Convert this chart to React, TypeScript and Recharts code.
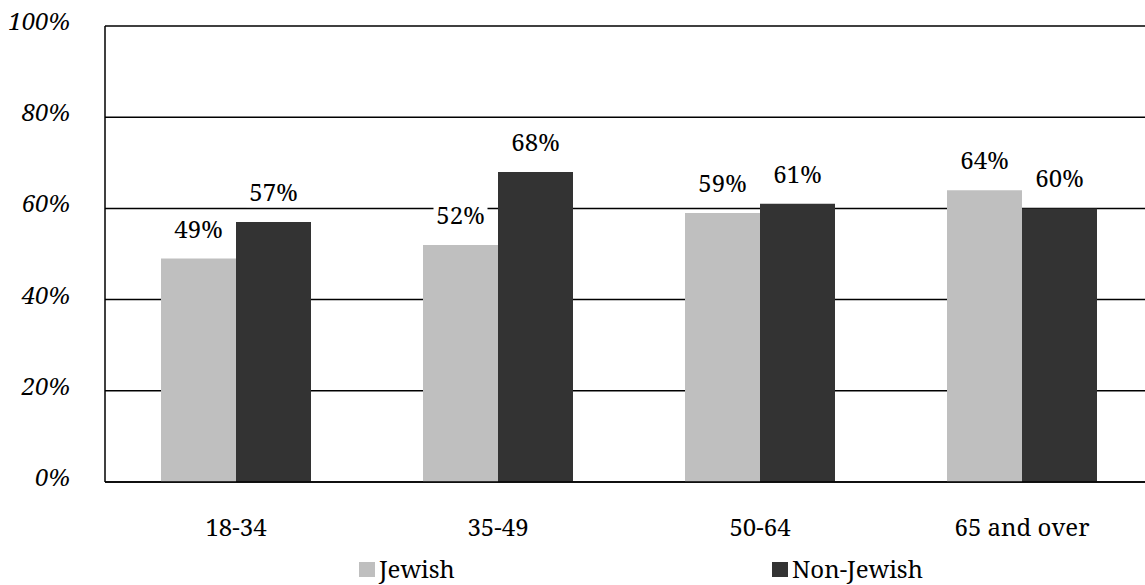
import { BarChart, Bar, XAxis, YAxis, CartesianGrid, LabelList } from "recharts";

const ageGroups = ["18-34", "35-49", "50-64", "65 and over"];
const jewish = [49, 52, 59, 64];
const nonJewish = [57, 68, 61, 60];
const yTicks = [0, 20, 40, 60, 80, 100];

const data = ageGroups.map((group, i) => ({
  group,
  jewish: jewish[i],
  nonJewish: nonJewish[i],
}));

const FONT = '"Noto Serif", "Liberation Serif", serif';
const LIGHT = "#BFBFBF";
const DARK = "#333333";

const YTick = (props: any) => {
  const { x, y, payload } = props;
  return (
    <text
      x={x}
      y={y + 4}
      textAnchor="end"
      style={{ fontFamily: FONT, fontStyle: "italic", fontSize: 24 }}
      fill="#000"
    >
      {payload.value}%
    </text>
  );
};

const XTick = (props: any) => {
  const { x, y, payload } = props;
  return (
    <text
      x={x}
      y={y + 46}
      textAnchor="middle"
      style={{ fontFamily: FONT, fontSize: 24 }}
      fill="#000"
    >
      {payload.value}
    </text>
  );
};

const ValueLabel = (props: any) => {
  const { x, y, width, value } = props;
  const cx = x + width / 2;
  const base = y - 21;
  return (
    <g>
      <rect x={cx - 27} y={base - 22} width={54} height={28} fill="#fff" />
      <text
        x={cx}
        y={base}
        textAnchor="middle"
        style={{ fontFamily: FONT, fontSize: 24 }}
        fill="#000"
      >
        {value}%
      </text>
    </g>
  );
};

const LegendItem = ({ left, color, label }: { left: number; color: string; label: string }) => (
  <div
    style={{
      position: "absolute",
      left,
      top: 553,
      display: "flex",
      alignItems: "center",
      fontFamily: FONT,
      fontSize: 24,
      lineHeight: "32px",
      color: "#000",
      whiteSpace: "nowrap",
    }}
  >
    <span style={{ display: "inline-block", width: 16, height: 15, background: color, marginRight: 4 }} />
    {label}
  </div>
);

export default function App() {
  return (
    <div
      style={{
        position: "absolute",
        left: 0,
        top: 0,
        width: 1145,
        height: 585,
        overflow: "hidden",
        background: "#fff",
        fontFamily: FONT,
      }}
    >
      <BarChart
        width={1160}
        height={585}
        data={data}
        margin={{ top: 26, right: 7, bottom: 0, left: 0 }}
        barGap={0}
      >
        <CartesianGrid horizontal vertical={false} stroke="#000" strokeWidth={1.5} />
        <XAxis
          dataKey="group"
          height={103}
          axisLine={{ stroke: "#000", strokeWidth: 1.5 }}
          tickLine={false}
          tick={<XTick />}
          interval={0}
        />
        <YAxis
          width={105}
          domain={[0, 100]}
          ticks={yTicks}
          axisLine={{ stroke: "#000", strokeWidth: 1.5 }}
          tickLine={false}
          tickSize={0}
          tickMargin={35}
          tick={<YTick />}
        />
        <Bar dataKey="jewish" fill={LIGHT} barSize={75} isAnimationActive={false}>
          <LabelList dataKey="jewish" content={<ValueLabel />} />
        </Bar>
        <Bar dataKey="nonJewish" fill={DARK} barSize={75} isAnimationActive={false}>
          <LabelList dataKey="nonJewish" content={<ValueLabel />} />
        </Bar>
      </BarChart>
      <LegendItem left={359} color={LIGHT} label="Jewish" />
      <LegendItem left={772} color={DARK} label="Non-Jewish" />
    </div>
  );
}
